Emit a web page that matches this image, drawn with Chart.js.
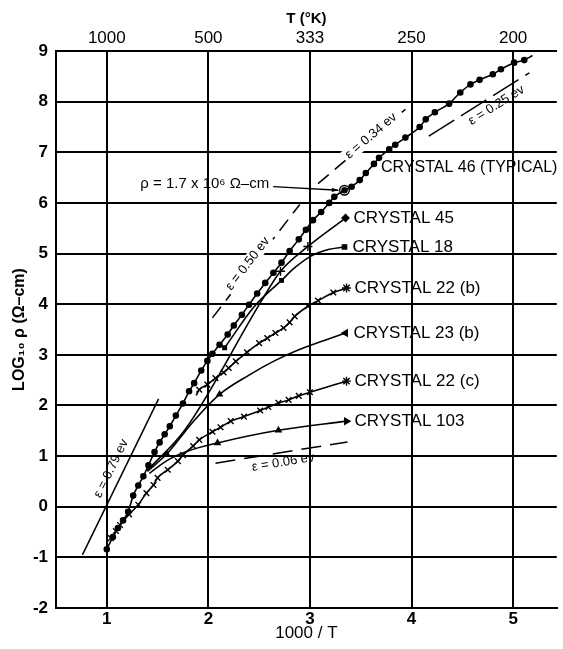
<!DOCTYPE html>
<html>
<head>
<meta charset="utf-8">
<title>LOG10 rho vs 1000/T</title>
<script src="https://cdn.jsdelivr.net/npm/chart.js@4.4.1/dist/chart.umd.min.js"></script>
<style>
  html, body { margin: 0; padding: 0; background: #fff; }
  #lienzo { display: block; }
</style>
</head>
<body>
<canvas id="lienzo" width="563" height="649"></canvas>
<script>
'use strict';

// ejes: 1000/T abajo, T (°K) arriba
const xTicks = [1, 2, 3, 4, 5];
const tLabels = ['1000', '500', '333', '250', '200'];
const yTicks = [-2, -1, 0, 1, 2, 3, 4, 5, 6, 7, 8, 9];

// cada serie: [1000/T, log10 rho]
const crystal46 = [
    [1.00, -0.84], [1.06, -0.60], [1.11, -0.42], [1.16, -0.27], [1.21, -0.10], [1.26, 0.22],
    [1.31, 0.42], [1.36, 0.60], [1.41, 0.82], [1.47, 1.08], [1.52, 1.27], [1.57, 1.43],
    [1.62, 1.59], [1.68, 1.80], [1.75, 2.04], [1.81, 2.28], [1.86, 2.44], [1.93, 2.69],
    [1.99, 2.88], [2.04, 3.02], [2.11, 3.20], [2.19, 3.40], [2.25, 3.58], [2.33, 3.79],
    [2.40, 3.99], [2.48, 4.21], [2.56, 4.42], [2.64, 4.62], [2.72, 4.82], [2.80, 5.05],
    [2.89, 5.28], [2.96, 5.47], [3.03, 5.66], [3.11, 5.82], [3.19, 6.00], [3.24, 6.12],
    [3.34, 6.25], [3.41, 6.32], [3.49, 6.45], [3.55, 6.59], [3.63, 6.77], [3.68, 6.89],
    [3.78, 7.06], [3.84, 7.15], [3.94, 7.29], [4.08, 7.50], [4.14, 7.65], [4.23, 7.79],
    [4.37, 7.96], [4.48, 8.18], [4.58, 8.34], [4.67, 8.43], [4.80, 8.54], [4.88, 8.64],
    [5.01, 8.77], [5.11, 8.82], [5.19, 8.91]
];
const rhoPoint = [[3.34, 6.25]];
const crystal45 = [[1.40, 0.72], [1.77, 1.52], [2.53, 4.09], [2.71, 4.65], [2.98, 5.14], [3.35, 5.70]];
const crystal18 = [[2.16, 3.14], [2.45, 3.95], [2.72, 4.47], [2.85, 4.72], [3.01, 4.95], [3.18, 5.08], [3.34, 5.13]];
const crystal22b = [
    [1.88, 2.20], [1.91, 2.31], [1.99, 2.41], [2.07, 2.54], [2.15, 2.65], [2.20, 2.74],
    [2.27, 2.87], [2.38, 3.05], [2.50, 3.23], [2.58, 3.33], [2.66, 3.43], [2.74, 3.53],
    [2.80, 3.64], [2.85, 3.76], [2.98, 3.96], [3.08, 4.07], [3.23, 4.23], [3.36, 4.32]
];
const crystal23b = [[1.40, 0.70], [1.59, 1.04], [1.85, 1.68], [2.11, 2.22], [2.40, 2.60], [2.65, 2.88], [2.89, 3.10], [3.35, 3.43]];
const crystal22c = [
    [1.04, -0.62], [1.09, -0.48], [1.13, -0.36], [1.22, -0.15], [1.31, 0.04], [1.39, 0.27],
    [1.46, 0.43], [1.50, 0.57], [1.60, 0.73], [1.70, 0.90], [1.75, 1.02], [1.85, 1.20],
    [1.91, 1.32], [2.04, 1.48], [2.12, 1.57], [2.22, 1.69], [2.35, 1.78], [2.51, 1.90],
    [2.59, 1.97], [2.69, 2.05], [2.79, 2.11], [2.89, 2.19], [3.00, 2.26], [3.36, 2.48]
];
const crystal103 = [[1.42, 0.66], [1.60, 0.92], [1.80, 1.10], [2.09, 1.26], [2.69, 1.51], [3.36, 1.69]];

// rectas de pendiente (energia de activacion)
const eps079 = [[0.76, -0.95], [1.51, 2.13]];
const eps050 = [[2.04, 3.73], [2.90, 5.97]];
const eps034 = [[3.08, 6.38], [3.94, 7.85]];
const eps025 = [[4.17, 7.32], [5.16, 8.57]];
const eps006 = [[2.07, 0.86], [3.37, 1.28]];

const FONT = '"Liberation Sans", Arial, "DejaVu Sans", sans-serif';

function puntos(serie) {
    return serie.map(p => ({ x: p[0], y: p[1] }));
}

// una curva con marcadores solo en algunos puntos
function curva(serie, marcas, estilo, radio, finEstilo, finRadio, finRot) {
    const ultimo = serie.length - 1;
    return {
        data: puntos(serie),
        showLine: true,
        borderColor: '#000',
        borderWidth: 1.6,
        cubicInterpolationMode: 'monotone',
        pointBackgroundColor: '#000',
        pointBorderColor: '#000',
        pointBorderWidth: 1.4,
        pointStyle: c => c.dataIndex === ultimo ? finEstilo : estilo,
        pointRadius: c => c.dataIndex === ultimo ? finRadio : (marcas.includes(c.dataIndex) ? radio : 0),
        pointRotation: c => c.dataIndex === ultimo ? (finRot || 0) : 0
    };
}

function recta(serie, dash) {
    return {
        data: puntos(serie),
        showLine: true,
        borderColor: '#000',
        borderWidth: 1.5,
        borderDash: dash,
        pointRadius: 0
    };
}

const todos = (n) => Array.from({ length: n }, (v, i) => i);

const etiquetasPendiente = [
    { text: 'ε = 0.79 ev', line: eps079, t: 0.52, off: 12, bg: false },
    { text: 'ε = 0.50 ev', line: eps050, t: 0.45, off: 5, bg: true },
    { text: 'ε = 0.34 ev', line: eps034, t: 0.62, off: 2, bg: true },
    { text: 'ε = 0.25 ev', line: eps025, t: 0.62, off: -10, bg: false },
    { text: 'ε = 0.06 ev', line: eps006, t: 0.5, off: -10, bg: false }
];

const etiquetasCristal = [
    { text: 'CRYSTAL 46 (TYPICAL)', at: [3.70, 6.70], size: 16 },
    { text: 'CRYSTAL 45', serie: crystal45 },
    { text: 'CRYSTAL 18', serie: crystal18 },
    { text: 'CRYSTAL 22 (b)', serie: crystal22b },
    { text: 'CRYSTAL 23 (b)', serie: crystal23b },
    { text: 'CRYSTAL 22 (c)', serie: crystal22c },
    { text: 'CRYSTAL 103', serie: crystal103 }
];

const textos = {
    id: 'textos',
    afterDatasetsDraw(chart) {
        const ctx = chart.ctx;
        const sx = chart.scales.x;
        const sy = chart.scales.y;
        const px = p => [sx.getPixelForValue(p[0]), sy.getPixelForValue(p[1])];
        ctx.save();
        ctx.fillStyle = '#000';
        ctx.strokeStyle = '#000';

        // etiquetas de las rectas
        ctx.font = '13px ' + FONT;
        ctx.textAlign = 'center';
        ctx.textBaseline = 'middle';
        etiquetasPendiente.forEach(e => {
            const a = px(e.line[0]);
            const b = px(e.line[1]);
            const ang = Math.atan2(b[1] - a[1], b[0] - a[0]);
            const cx = a[0] + e.t * (b[0] - a[0]) + e.off * Math.sin(ang);
            const cy = a[1] + e.t * (b[1] - a[1]) - e.off * Math.cos(ang);
            ctx.save();
            ctx.translate(cx, cy);
            ctx.rotate(ang);
            if (e.bg) {
                const w = ctx.measureText(e.text).width;
                ctx.fillStyle = '#fff';
                ctx.fillRect(-w / 2 - 3, -7, w + 6, 14);
                ctx.fillStyle = '#000';
            }
            ctx.fillText(e.text, 0, 0);
            ctx.restore();
        });

        // nombres de los cristales
        ctx.textAlign = 'left';
        etiquetasCristal.forEach(e => {
            ctx.font = (e.size || 17) + 'px ' + FONT;
            if (e.at) {
                const p = px(e.at);
                ctx.fillText(e.text, p[0], p[1]);
            } else {
                const p = px(e.serie[e.serie.length - 1]);
                ctx.fillText(e.text, p[0] + 8, p[1]);
            }
        });

        // rho = 1.7 x 10^6 ohm-cm con flecha al punto marcado
        ctx.font = '15px ' + FONT;
        const tp = px([1.33, 6.38]);
        const etiqueta = 'ρ = 1.7 x 10⁶ Ω–cm';
        ctx.fillText(etiqueta, tp[0], tp[1]);
        const w = ctx.measureText(etiqueta).width;
        const rp = px(rhoPoint[0]);
        const x0 = tp[0] + w + 4;
        const y0 = tp[1] + 3;
        const x1 = rp[0] - 6;
        const y1 = rp[1];
        ctx.lineWidth = 1.4;
        ctx.beginPath();
        ctx.moveTo(x0, y0);
        ctx.lineTo(x1, y1);
        ctx.stroke();
        const ang = Math.atan2(y1 - y0, x1 - x0);
        ctx.beginPath();
        ctx.moveTo(x1, y1);
        ctx.lineTo(x1 - 7 * Math.cos(ang - 0.3), y1 - 7 * Math.sin(ang - 0.3));
        ctx.lineTo(x1 - 7 * Math.cos(ang + 0.3), y1 - 7 * Math.sin(ang + 0.3));
        ctx.closePath();
        ctx.fill();
        ctx.restore();
    }
};

const ctx = document.getElementById('lienzo');

const myChart = new Chart(ctx, {
    type: 'scatter',
    data: {
        datasets: [
            curva(crystal46, todos(crystal46.length - 1), 'circle', 2.6, 'circle', 0),
            {
                data: puntos(rhoPoint),
                pointStyle: 'circle',
                pointRadius: 4.8,
                pointBorderWidth: 1.4,
                pointBorderColor: '#000',
                pointBackgroundColor: '#fff'
            },
            curva(crystal45, [3, 4], 'cross', 4.5, 'rectRot', 3.5),
            curva(crystal18, [0, 2], 'rect', 2.5, 'rect', 3),
            curva(crystal22b, todos(crystal22b.length).slice(1), 'crossRot', 4, 'star', 4.5),
            curva(crystal23b, [1, 3], 'triangle', 3, 'triangle', 3.5, -90),
            curva(crystal22c, todos(crystal22c.length), 'crossRot', 4, 'star', 4.5),
            curva(crystal103, [3, 4], 'triangle', 3, 'triangle', 3.5, 90),
            recta(eps079, []),
            recta(eps050, [14, 8]),
            recta(eps034, [14, 8]),
            recta(eps025, [30, 8]),
            recta(eps006, [20, 9])
        ]
    },
    options: {
        responsive: false,
        animation: false,
        devicePixelRatio: 1,
        layout: { padding: { left: 0, right: 2, top: 0, bottom: 0 } },
        plugins: {
            legend: { display: false },
            tooltip: { enabled: false }
        },
        scales: {
            x: {
                type: 'linear',
                position: 'bottom',
                min: 0.5,
                max: 5.43,
                afterBuildTicks: s => { s.ticks = xTicks.map(v => ({ value: v })); },
                afterFit: s => { s.height = 41; },
                ticks: { color: '#000', padding: 1, font: { family: FONT, size: 17, weight: 'bold' } },
                grid: { color: '#000', lineWidth: 2, drawTicks: false },
                border: { display: true, color: '#000', width: 2 },
                title: {
                    display: true,
                    text: '1000 / T',
                    color: '#000',
                    padding: { top: 0, bottom: 5 },
                    font: { family: FONT, size: 17 }
                }
            },
            x2: {
                type: 'linear',
                position: 'top',
                min: 0.5,
                max: 5.43,
                afterBuildTicks: s => { s.ticks = xTicks.map(v => ({ value: v })); },
                afterFit: s => { s.height = 51; },
                ticks: {
                    color: '#000',
                    padding: 2,
                    font: { family: FONT, size: 17 },
                    callback: (v, i) => tLabels[i]
                },
                grid: { display: false, drawTicks: false },
                border: { display: true, color: '#000', width: 2 },
                title: {
                    display: true,
                    text: 'T (°K)',
                    color: '#000',
                    padding: { top: 10, bottom: 0 },
                    font: { family: FONT, size: 15, weight: 'bold' }
                }
            },
            y: {
                type: 'linear',
                min: -2,
                max: 9,
                afterBuildTicks: s => { s.ticks = yTicks.map(v => ({ value: v })); },
                afterFit: s => { s.width = 56; },
                ticks: { color: '#000', padding: 8, font: { family: FONT, size: 17, weight: 'bold' } },
                grid: { color: '#000', lineWidth: 2, drawTicks: false },
                border: { display: true, color: '#000', width: 2 },
                title: {
                    display: true,
                    text: 'LOG₁₀ ρ (Ω–cm)',
                    color: '#000',
                    padding: { top: 10, bottom: 0 },
                    font: { family: FONT, size: 16, weight: 'bold' }
                }
            }
        }
    },
    plugins: [textos]
});
</script>
</body>
</html>
